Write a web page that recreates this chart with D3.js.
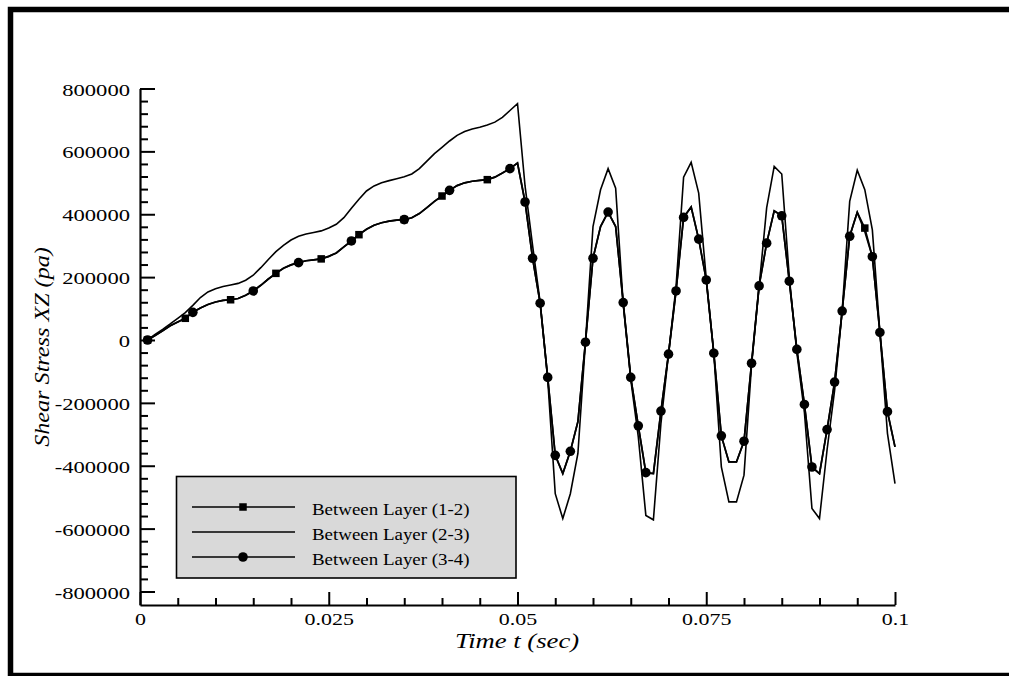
<!DOCTYPE html>
<html><head><meta charset="utf-8">
<script src="https://cdn.jsdelivr.net/npm/d3@7"></script>
<style>
html,body{margin:0;padding:0;background:#fff;}
svg{display:block;}
</style></head>
<body>
<svg id="chart" width="1009" height="676"></svg>
<script>
// ---------- data ----------
const timeSec = [0.001,0.002,0.003,0.004,0.005,0.006,0.007,0.008,0.009,0.010,
0.011,0.012,0.013,0.014,0.015,0.016,0.017,0.018,0.019,0.020,
0.021,0.022,0.023,0.024,0.025,0.026,0.027,0.028,0.029,0.030,
0.031,0.032,0.033,0.034,0.035,0.036,0.037,0.038,0.039,0.040,
0.041,0.042,0.043,0.044,0.045,0.046,0.047,0.048,0.049,0.050,
0.051,0.052,0.053,0.054,0.055,0.056,0.057,0.058,0.059,0.060,
0.061,0.062,0.063,0.064,0.065,0.066,0.067,0.068,0.069,0.070,
0.071,0.072,0.073,0.074,0.075,0.076,0.077,0.078,0.079,0.080,
0.081,0.082,0.083,0.084,0.085,0.086,0.087,0.088,0.089,0.090,
0.091,0.092,0.093,0.094,0.095,0.096,0.097,0.098,0.099,0.100];

const layer34 = [0,14000,29000,45000,57000,69000,88000,102000,113000,121000,
126000,128000,132000,142000,156000,174000,194000,212000,228000,239000,
246000,252000,255000,258000,266000,277000,296000,315000,335000,352000,
365000,373000,378000,381000,383000,389000,402000,421000,441000,458000,
476000,491000,500000,505000,508000,510000,518000,531000,545000,563000,
439000,260000,117000,-119000,-367000,-425000,-354000,-260000,-7000,260000,
361000,407000,361000,119000,-119000,-273000,-422000,-425000,-226000,-45000,
156000,390000,423000,321000,191000,-42000,-305000,-388000,-388000,-322000,
-74000,172000,308000,411000,395000,187000,-30000,-205000,-404000,-425000,
-285000,-134000,92000,330000,406000,345000,265000,24000,-228000,-340000];

const layer12 = [0,14000,29000,45000,57000,69000,88000,102000,113000,121000,
126000,128000,132000,142000,156000,174000,194000,212000,228000,239000,
246000,252000,255000,258000,266000,277000,296000,315000,335000,352000,
365000,373000,378000,381000,383000,389000,402000,421000,441000,458000,
476000,491000,500000,505000,508000,510000,518000,531000,545000,563000,
439000,260000,117000,-119000,-367000,-425000,-354000,-260000,-7000,260000,
361000,407000,361000,119000,-119000,-273000,-422000,-425000,-226000,-45000,
156000,390000,423000,321000,191000,-42000,-305000,-388000,-388000,-322000,
-74000,172000,308000,411000,395000,187000,-30000,-205000,-404000,-425000,
-285000,-134000,92000,330000,406000,356000,265000,24000,-228000,-340000];

const layer23 = [0,18000,34000,51000,69000,87000,110000,135000,153000,163000,
170000,175000,180000,190000,206000,230000,256000,281000,301000,318000,
330000,337000,342000,347000,356000,368000,389000,419000,448000,474000,
490000,500000,507000,513000,519000,528000,545000,569000,593000,613000,
633000,651000,663000,671000,677000,684000,693000,708000,730000,752000,
490000,300000,120000,-125000,-489000,-568000,-489000,-361000,-7000,361000,
478000,545000,483000,115000,-125000,-308000,-558000,-572000,-265000,-45000,
170000,518000,565000,467000,195000,-42000,-404000,-515000,-515000,-430000,
-80000,170000,420000,552000,528000,200000,-40000,-230000,-536000,-568000,
-350000,-160000,92000,441000,540000,478000,350000,24000,-297000,-457000];

const squareTimes12 = [0.001,0.006,0.012,0.018,0.024,0.029,0.035,0.040,0.046,0.096];
const circleTimes34 = [0.001,0.007,0.015,0.021,0.028,0.035,0.041,0.049,0.051,0.052,0.053,0.054,0.055,
0.057,0.059,0.060,0.062,0.064,0.065,0.066,0.067,0.069,0.070,0.071,0.072,0.074,0.075,0.076,0.077,
0.080,0.081,0.082,0.083,0.085,0.086,0.087,0.088,0.089,0.091,0.092,0.093,0.094,0.097,0.098,0.099];

const seriesNames = ["Between Layer (1-2)","Between Layer (2-3)","Between Layer (3-4)"];
const xTickValues = [0,0.025,0.05,0.075,0.1];
const xTickLabels = ["0","0.025","0.05","0.075","0.1"];
const yTickValues = [-800000,-600000,-400000,-200000,0,200000,400000,600000,800000];
const yTickLabels = ["-800000","-600000","-400000","-200000","0","200000","400000","600000","800000"];
const xLabel = "Time t (sec)";
const yLabel = "Shear Stress XZ (pa)";

// ---------- layout ----------
const svg = d3.select("#chart");
const FONT = "'Liberation Serif','Times New Roman',serif";
const x = d3.scaleLinear().domain([0,0.1]).range([140,895]);
const y = d3.scaleLinear().domain([-843000,800000]).range([605,88.5]);

function stretch(sel, f){
  sel.each(function(){
    const n = this.getComputedTextLength();
    d3.select(this).attr("textLength", n*f).attr("lengthAdjust","spacingAndGlyphs");
  });
}

// frame
svg.append("rect").attr("x",10.5).attr("y",9.5).attr("width",1010).attr("height",666)
  .attr("fill","none").attr("stroke","#000").attr("stroke-width",5.5);

// minor ticks
const yMinor = d3.range(-800000,800001,40000).filter(v=>v%200000!==0);
const xMinor = d3.range(0,0.1001,0.005).filter((v,i)=>i%5!==0);

const gyMinor = svg.append("g").attr("transform","translate(140,0)")
  .call(d3.axisLeft(y).tickValues(yMinor).tickSize(-8).tickSizeOuter(0).tickFormat(""));
gyMinor.select(".domain").remove();
const gxMinor = svg.append("g").attr("transform","translate(0,605)")
  .call(d3.axisBottom(x).tickValues(xMinor).tickSize(-7).tickSizeOuter(0).tickFormat(""));
gxMinor.select(".domain").remove();
svg.selectAll("g line").attr("stroke","#000").attr("stroke-width",2);

// major axes
const gy = svg.append("g").attr("transform","translate(140,0)")
  .call(d3.axisLeft(y).tickValues(yTickValues).tickSize(-15).tickSizeOuter(0).tickPadding(10)
    .tickFormat((d,i)=>yTickLabels[i]));
const gx = svg.append("g").attr("transform","translate(0,605)")
  .call(d3.axisBottom(x).tickValues(xTickValues).tickSize(-13).tickSizeOuter(0).tickPadding(8)
    .tickFormat((d,i)=>xTickLabels[i]));
[gy,gx].forEach(g=>{
  g.select(".domain").attr("stroke","#000").attr("stroke-width",2.2);
  g.selectAll(".tick line").attr("stroke","#000").attr("stroke-width",2);
  g.selectAll("text").attr("font-family",FONT).attr("fill","#000");
});
gy.selectAll("text").attr("font-size",16.5).attr("dy","0.4em");
stretch(gy.selectAll("text"),1.37);
gx.selectAll("text").attr("font-size",17.3);
stretch(gx.selectAll("text"),1.27);

// axis titles
const xt = svg.append("text").attr("x",517).attr("y",648).attr("text-anchor","middle")
  .attr("font-family",FONT).attr("font-style","italic").attr("font-size",22).text(xLabel);
stretch(xt,1.21);
const yt = svg.append("text").attr("transform","translate(49,347) rotate(-90)").attr("text-anchor","middle")
  .attr("font-family",FONT).attr("font-style","italic").attr("font-size",21).text(yLabel);
stretch(yt,1.15);

// series
const line = d3.line().x((d,i)=>x(timeSec[i])).y(d=>y(d));
function valueAt(arr,t){ const i = timeSec.findIndex(v=>Math.abs(v-t)<1e-9); return arr[i]; }

const plot = svg.append("g");
plot.append("path").datum(layer12).attr("d",line).attr("fill","none").attr("stroke","#000").attr("stroke-width",1.7);
plot.append("path").datum(layer23).attr("d",line).attr("fill","none").attr("stroke","#000").attr("stroke-width",1.6);
plot.append("path").datum(layer34).attr("d",line).attr("fill","none").attr("stroke","#000").attr("stroke-width",1.7);

const SQ = 7.5, R = 4.8;
plot.selectAll("rect.sq").data(squareTimes12).join("rect").attr("class","sq")
  .attr("x",t=>x(t)-SQ/2).attr("y",t=>y(valueAt(layer12,t))-SQ/2)
  .attr("width",SQ).attr("height",SQ).attr("fill","#000");
plot.selectAll("circle.ci").data(circleTimes34).join("circle").attr("class","ci")
  .attr("cx",t=>x(t)).attr("cy",t=>y(valueAt(layer34,t))).attr("r",R).attr("fill","#000");

// legend
const lg = svg.append("g");
lg.append("rect").attr("x",176.5).attr("y",476.5).attr("width",339.5).attr("height",101.5)
  .attr("fill","#d9d9d9").attr("stroke","#000").attr("stroke-width",1.6);
const rowsY = [507,532,557];
seriesNames.forEach((name,i)=>{
  const ry = rowsY[i];
  lg.append("line").attr("x1",192).attr("x2",295).attr("y1",ry).attr("y2",ry)
    .attr("stroke","#000").attr("stroke-width",1.7);
  if(i===0) lg.append("rect").attr("x",243-SQ/2).attr("y",ry-SQ/2).attr("width",SQ).attr("height",SQ).attr("fill","#000");
  if(i===2) lg.append("circle").attr("cx",243).attr("cy",ry).attr("r",R).attr("fill","#000");
  const tx = lg.append("text").attr("x",312).attr("y",ry+8).attr("font-family",FONT)
    .attr("font-size",17.7).attr("fill","#000").text(name);
  stretch(tx,1.07);
});
</script>
</body></html>
